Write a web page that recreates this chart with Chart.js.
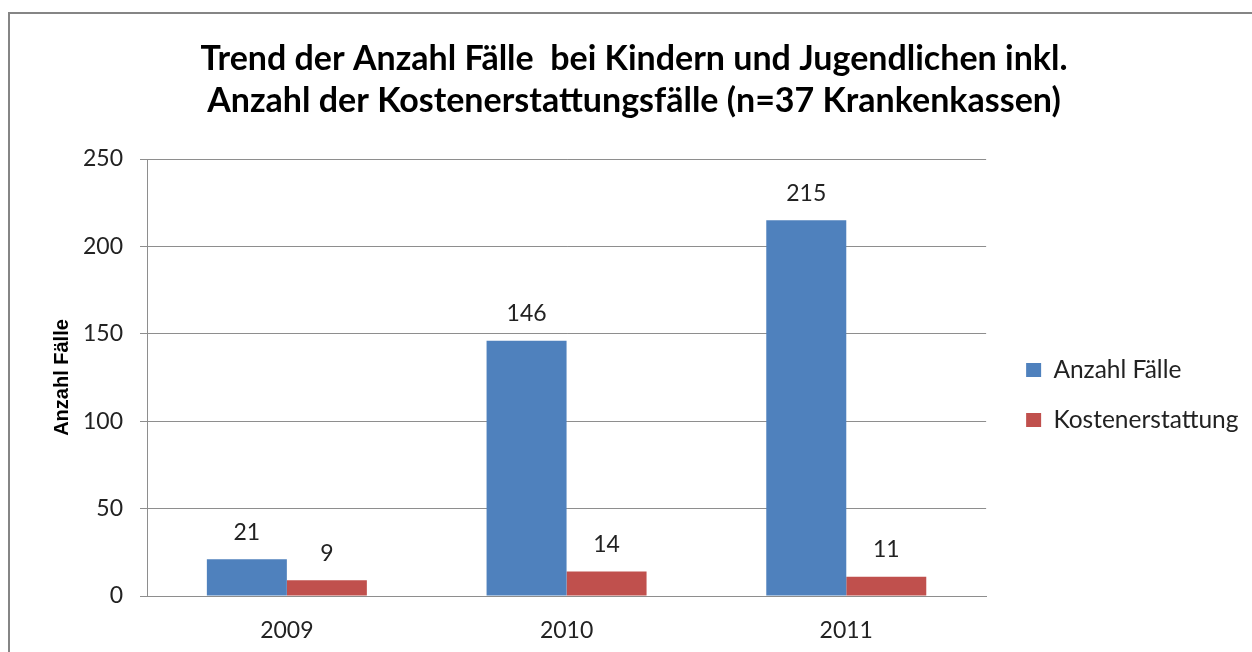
<!DOCTYPE html>
<html>
<head>
<meta charset="utf-8">
<script src="https://cdn.jsdelivr.net/npm/chart.js@4"></script>
<style>
  html, body { margin: 0; padding: 0; background: #ffffff; }
  #wrap { position: relative; width: 1252px; height: 652px; overflow: hidden; }
  #frame { position: absolute; left: 8px; top: 12px; width: 1400px; height: 800px; border: 2px solid #858585; box-sizing: border-box; }
  #c { position: absolute; left: 0; top: 0; }
</style>
</head>
<body>
<div id="wrap">
  <div id="frame"></div>
  <canvas id="c" width="1252" height="652"></canvas>
</div>
<script>
const categories = ['2009', '2010', '2011'];
const anzahlFaelle = [21, 146, 215];
const kostenerstattung = [9, 14, 11];
const seriesNames = ['Anzahl Fälle', 'Kostenerstattung'];
const titleLines = ['Trend der Anzahl Fälle  bei Kindern und Jugendlichen inkl.', 'Anzahl der Kostenerstattungsfälle (n=37 Krankenkassen)'];
const yAxisTitle = 'Anzahl Fälle';
const yMin = 0, yMax = 250, yStep = 50;

const valueLabels = {
  id: 'valueLabels',
  afterDatasetsDraw(chart) {
    const ctx = chart.ctx;
    ctx.save();
    ctx.font = '23px Lato';
    ctx.fillStyle = '#222222';
    ctx.textAlign = 'center';
    ctx.textBaseline = 'middle';
    chart.data.datasets.forEach((ds, di) => {
      const meta = chart.getDatasetMeta(di);
      meta.data.forEach((el, i) => {
        ctx.fillText(String(ds.data[i]), el.x, el.y - 27);
      });
    });
    ctx.restore();
  }
};

const legendShift = {
  id: 'legendShift',
  afterLayout(chart) {
    const lg = chart.legend;
    if (!lg) return;
    lg.left += 14.5; lg.right += 14.5;
    lg.top += 69; lg.bottom += 69;
  }
};

new Chart(document.getElementById('c'), {
  type: 'bar',
  data: {
    labels: categories,
    datasets: [
      { label: seriesNames[0], data: anzahlFaelle, backgroundColor: '#4F81BD', borderWidth: 0 },
      { label: seriesNames[1], data: kostenerstattung, backgroundColor: '#C0504D', borderWidth: 0 }
    ]
  },
  options: {
    responsive: false,
    animation: false,
    events: [],
    layout: { padding: { left: 34, right: 18, top: 0, bottom: 0 } },
    datasets: { bar: { categoryPercentage: 0.572, barPercentage: 1.0 } },
    plugins: {
      title: {
        display: true,
        text: titleLines,
        color: '#000000',
        font: { family: 'Lato', size: 34, weight: 'bold', lineHeight: 42 / 34 },
        padding: { top: 38, bottom: 37 }
      },
      legend: {
        display: true,
        position: 'right',
        labels: {
          boxWidth: 15,
          boxHeight: 14,
          padding: 25.5,
          color: '#222222',
          font: { family: 'Lato', size: 24.5 }
        }
      },
      tooltip: { enabled: false }
    },
    scales: {
      x: {
        grid: { display: true, drawOnChartArea: false, drawTicks: false },
        border: { display: true, color: '#8e8e8e', width: 1 },
        ticks: { color: '#222222', font: { family: 'Lato', size: 23 }, padding: 21 },
        afterFit(scale) { scale.height = 56; }
      },
      y: {
        min: yMin,
        max: yMax,
        ticks: { stepSize: yStep, color: '#222222', font: { family: 'Lato', size: 23 }, padding: 17 },
        grid: { color: '#8e8e8e', lineWidth: 1, tickLength: 7, drawTicks: true },
        border: { display: true, color: '#8e8e8e', width: 1 },
        title: {
          display: true,
          text: yAxisTitle,
          color: '#000000',
          font: { family: 'Liberation Sans', size: 20, weight: 'bold' },
          padding: { top: 16, bottom: 0 }
        },
        afterFit(scale) { scale.width = 113; }
      }
    }
  },
  plugins: [valueLabels, legendShift]
});
</script>
</body>
</html>
